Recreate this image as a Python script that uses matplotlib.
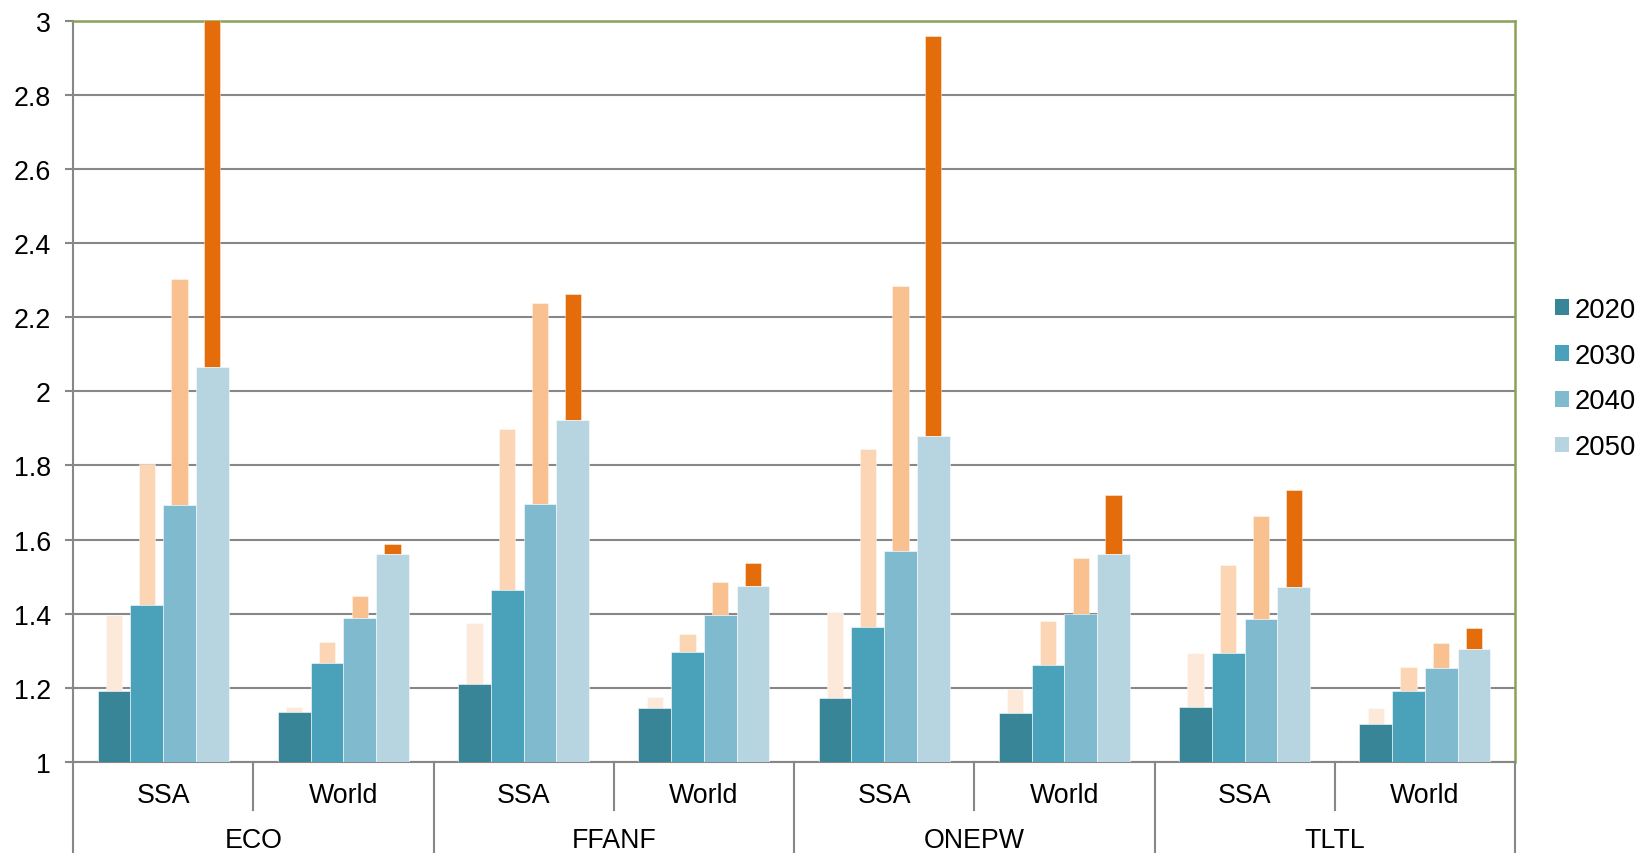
import matplotlib
matplotlib.use("Agg")
import matplotlib.pyplot as plt
import matplotlib.transforms as mtransforms
from matplotlib.patches import Patch
from matplotlib.ticker import FuncFormatter, MultipleLocator
import numpy as np

plt.rcParams["font.family"] = ["Liberation Sans", "DejaVu Sans"]

# ---- data -------------------------------------------------------------
scenarios = ["ECO", "FFANF", "ONEPW", "TLTL"]
regions = ["SSA", "World"]
years = ["2020", "2030", "2040", "2050"]

# base level per year (order: ECO SSA, ECO World, FFANF SSA, FFANF World,
# ONEPW SSA, ONEPW World, TLTL SSA, TLTL World)
base_2020 = [1.192, 1.135, 1.210, 1.145, 1.172, 1.133, 1.148, 1.102]
base_2030 = [1.424, 1.266, 1.464, 1.296, 1.363, 1.261, 1.294, 1.192]
base_2040 = [1.692, 1.389, 1.695, 1.397, 1.570, 1.399, 1.387, 1.253]
base_2050 = [2.065, 1.561, 1.922, 1.474, 1.878, 1.561, 1.472, 1.305]

# upper level per year (top of the narrow range bar)
high_2020 = [1.397, 1.148, 1.375, 1.175, 1.404, 1.196, 1.294, 1.146]
high_2030 = [1.803, 1.325, 1.898, 1.345, 1.845, 1.380, 1.531, 1.257]
high_2040 = [2.303, 1.448, 2.238, 1.486, 2.284, 1.549, 1.663, 1.321]
high_2050 = [3.120, 1.587, 2.261, 1.536, 2.957, 1.721, 1.733, 1.361]

base_colors = ["#388598", "#49A2B9", "#7FBACE", "#B7D5E0"]
high_colors = ["#FDE9DA", "#FCD5B5", "#F9C190", "#E46C0A"]

bases = [base_2020, base_2030, base_2040, base_2050]
highs = [high_2020, high_2030, high_2040, high_2050]

# ---- figure -----------------------------------------------------------
W, H = 1637, 854
fig = plt.figure(figsize=(W / 100, H / 100), dpi=100)
ax = fig.add_axes([73 / W, (H - 763) / H, (1515 - 73) / W, (763 - 21.5) / H])

grid_gray = "#878787"
green = "#8BA25A"
FS = 19.3
LEG_FS = 19.8

n = len(scenarios) * len(regions)
x = np.arange(n)
w = 0.727 / 4

for i in range(4):
    xi = x + (i - 1.5) * w
    b = np.array(bases[i])
    h = np.array(highs[i])
    ax.bar(xi, h - b, bottom=b, width=w / 2, color=high_colors[i],
           edgecolor=(1, 1, 1, 0.5), linewidth=0.6, zorder=3)
    ax.bar(xi, b - 1, bottom=1, width=w, color=base_colors[i],
           edgecolor=(1, 1, 1, 0.55), linewidth=0.7, zorder=3,
           label=years[i])

ax.set_xlim(-0.5, n - 0.5)
ax.set_ylim(1, 3)
ax.yaxis.set_major_locator(MultipleLocator(0.2))
ax.yaxis.set_major_formatter(FuncFormatter(lambda v, p: f"{v:g}"))
ax.grid(axis="y", color=grid_gray, linewidth=1.5, zorder=0)
ax.set_axisbelow(True)
ax.set_xticks([])
ax.tick_params(axis="y", length=6, width=1.5, color=grid_gray, pad=10,
               labelsize=FS, labelcolor="black")

for s in ["left", "bottom"]:
    ax.spines[s].set_color(grid_gray)
    ax.spines[s].set_linewidth(1.5)
for s in ["top", "right"]:
    ax.spines[s].set_color(green)
    ax.spines[s].set_linewidth(1.8)

# ---- two-level category axis -----------------------------------------
trans = mtransforms.blended_transform_factory(ax.transData, ax.transAxes)
inner_y = -(796 - 763) / (763 - 21.5)
outer_y = -(841 - 763) / (763 - 21.5)
short_y = -(811 - 763) / (763 - 21.5)

for k in range(n):
    ax.text(x[k], inner_y, regions[k % 2], transform=trans, ha="center",
            va="center", fontsize=FS, clip_on=False)
for g, name in enumerate(scenarios):
    ax.text(2 * g + 0.5, outer_y, name, transform=trans, ha="center",
            va="center", fontsize=FS, clip_on=False)

for k in range(n + 1):
    xs = k - 0.5
    y_end = -0.3 if k % 2 == 0 else short_y
    ax.plot([xs, xs], [0, y_end], transform=trans, color=grid_gray,
            linewidth=1.5, clip_on=False, zorder=1)

# ---- legend (base years only) ----------------------------------------
handles = [Patch(facecolor=c, edgecolor="none") for c in base_colors]
fig.legend(handles, years, loc="center left",
           bbox_to_anchor=(1555 / W, 1 - 379.5 / H),
           bbox_transform=fig.transFigure, frameon=False, fontsize=LEG_FS,
           handlelength=0.51, handleheight=0.51, handletextpad=0.22,
           labelspacing=0.72, borderpad=0, borderaxespad=0)

fig.savefig("out.png", dpi=100)
